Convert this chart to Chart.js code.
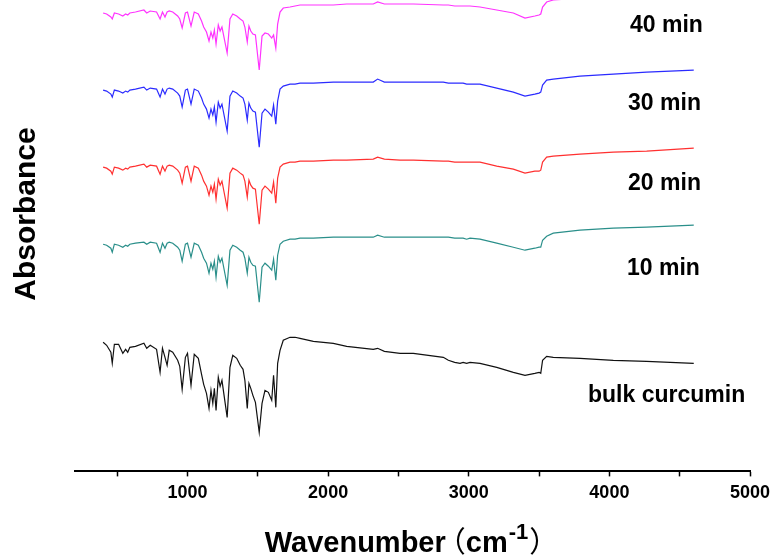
<!DOCTYPE html>
<html>
<head>
<meta charset="utf-8">
<script src="https://cdn.jsdelivr.net/npm/chart.js@4/dist/chart.umd.min.js"></script>
<style>
  html, body { margin: 0; padding: 0; background: #fff; }
  #caja { width: 773px; height: 557px; position: relative; }
</style>
</head>
<body>
<div id="caja"><canvas id="ftir_grf"></canvas></div>
<script>
// numero de onda (cm-1), comun a todos los espectros
const wavenumber = [
  400, 425, 455, 465, 480, 510, 540, 560, 575, 590,
  630, 690, 710, 735, 780, 805, 822, 840, 855, 870,
  895, 930, 945, 962, 985, 1000, 1025, 1048, 1077, 1100,
  1115, 1135, 1153, 1167, 1180, 1191, 1203, 1219, 1232, 1245,
  1282, 1302, 1322, 1350, 1375, 1395, 1408, 1425, 1437, 1450,
  1465, 1483, 1510, 1530, 1551, 1575, 1599, 1612, 1628, 1641,
  1658, 1681, 1729, 1765, 1800, 1895, 2037, 2132, 2321, 2352,
  2400, 2511, 2606, 2819, 2855, 2900, 2938, 2960, 2985, 3009,
  3080, 3199, 3317, 3400, 3470, 3500, 3512, 3525, 3554, 3601,
  3791, 4028, 4265, 4600
];

// absorbancia (u.a., con desplazamiento vertical de cada curva)
const bulkCurcumin = [
  1.29, 1.26, 1.19, 1.08, 1.27, 1.27, 1.18, 1.22, 1.19, 1.24,
  1.25, 1.28, 1.23, 1.26, 1.22, 0.99, 1.23, 1.14, 1.06, 1.21,
  1.19, 1.11, 1.05, 0.82, 1.14, 1.18, 0.86, 1.17, 1.13, 0.97,
  0.87, 0.78, 0.63, 0.81, 0.68, 0.83, 0.61, 0.94, 0.85, 0.91,
  0.54, 1.04, 1.16, 1.13, 1.06, 1.02, 0.91, 0.63, 0.88, 0.83,
  0.76, 0.69, 0.39, 0.68, 0.81, 0.79, 0.71, 0.96, 0.64, 1.08,
  1.21, 1.31, 1.34, 1.34, 1.33, 1.30, 1.28, 1.25, 1.22, 1.23,
  1.20, 1.18, 1.18, 1.14, 1.11, 1.09, 1.08, 1.09, 1.08, 1.09,
  1.08, 1.04, 0.99, 0.96, 0.98, 0.99, 0.98, 1.11, 1.15, 1.14,
  1.13, 1.11, 1.10, 1.08
];

const min10 = [
  2.27, 2.26, 2.23, 2.19, 2.27, 2.26, 2.24, 2.26, 2.25, 2.27,
  2.28, 2.29, 2.27, 2.29, 2.28, 2.19, 2.28, 2.23, 2.28, 2.29,
  2.28, 2.24, 2.21, 2.10, 2.27, 2.28, 2.14, 2.28, 2.26, 2.19,
  2.13, 2.08, 1.98, 2.08, 2.02, 2.10, 1.94, 2.15, 2.09, 2.13,
  1.86, 2.21, 2.26, 2.24, 2.21, 2.19, 2.13, 1.98, 2.14, 2.09,
  2.06, 2.05, 1.69, 2.04, 2.08, 2.05, 2.01, 2.12, 1.91, 2.16,
  2.27, 2.30, 2.32, 2.32, 2.33, 2.33, 2.34, 2.34, 2.34, 2.36,
  2.34, 2.34, 2.34, 2.34, 2.34, 2.33, 2.33, 2.33, 2.32, 2.33,
  2.32, 2.28, 2.24, 2.21, 2.23, 2.24, 2.24, 2.31, 2.35, 2.38,
  2.41, 2.43, 2.44, 2.46
];

const min20 = [
  3.04, 3.03, 3.00, 2.97, 3.04, 3.03, 3.01, 3.03, 3.02, 3.04,
  3.05, 3.07, 3.04, 3.06, 3.05, 2.97, 3.05, 3.00, 3.05, 3.06,
  3.05, 3.01, 2.98, 2.88, 3.04, 3.05, 2.90, 3.05, 3.03, 2.96,
  2.90, 2.85, 2.76, 2.85, 2.79, 2.87, 2.72, 2.92, 2.86, 2.90,
  2.63, 2.98, 3.03, 3.01, 2.98, 2.96, 2.90, 2.74, 2.91, 2.86,
  2.83, 2.82, 2.47, 2.81, 2.85, 2.82, 2.78, 2.89, 2.68, 2.93,
  3.04, 3.07, 3.09, 3.09, 3.10, 3.10, 3.11, 3.11, 3.12, 3.14,
  3.12, 3.11, 3.11, 3.10, 3.10, 3.09, 3.09, 3.09, 3.09, 3.09,
  3.09, 3.05, 3.02, 2.98, 3.00, 3.00, 3.01, 3.09, 3.14, 3.15,
  3.17, 3.19, 3.20, 3.23
];

const min30 = [
  3.81, 3.80, 3.77, 3.74, 3.81, 3.80, 3.78, 3.80, 3.79, 3.81,
  3.82, 3.84, 3.81, 3.83, 3.82, 3.74, 3.82, 3.77, 3.82, 3.83,
  3.82, 3.78, 3.75, 3.64, 3.81, 3.82, 3.67, 3.82, 3.80, 3.73,
  3.67, 3.62, 3.53, 3.62, 3.56, 3.64, 3.49, 3.69, 3.63, 3.67,
  3.40, 3.75, 3.80, 3.78, 3.75, 3.73, 3.67, 3.51, 3.68, 3.63,
  3.60, 3.59, 3.24, 3.58, 3.62, 3.59, 3.55, 3.66, 3.47, 3.70,
  3.82, 3.85, 3.87, 3.87, 3.88, 3.88, 3.89, 3.89, 3.89, 3.92,
  3.89, 3.89, 3.89, 3.89, 3.88, 3.88, 3.88, 3.88, 3.87, 3.87,
  3.87, 3.83, 3.79, 3.75, 3.77, 3.78, 3.79, 3.86, 3.91, 3.92,
  3.95, 3.97, 3.99, 4.01
];

const min40 = [
  4.58, 4.57, 4.54, 4.52, 4.58, 4.57, 4.55, 4.57, 4.56, 4.58,
  4.59, 4.61, 4.58, 4.60, 4.59, 4.52, 4.59, 4.54, 4.59, 4.60,
  4.59, 4.55, 4.52, 4.43, 4.58, 4.59, 4.45, 4.59, 4.57, 4.50,
  4.44, 4.39, 4.30, 4.39, 4.33, 4.41, 4.27, 4.46, 4.40, 4.44,
  4.18, 4.52, 4.57, 4.55, 4.52, 4.50, 4.44, 4.29, 4.45, 4.40,
  4.37, 4.36, 4.01, 4.35, 4.38, 4.37, 4.33, 4.36, 4.23, 4.47,
  4.59, 4.63, 4.64, 4.65, 4.66, 4.66, 4.66, 4.67, 4.67, 4.69,
  4.67, 4.67, 4.67, 4.66, 4.66, 4.65, 4.65, 4.65, 4.65, 4.65,
  4.64, 4.61, 4.58, 4.53, 4.55, 4.56, 4.57, 4.64, 4.69, 4.71,
  4.73, 4.75, 4.76, 4.78
];

// marcas del eje x (cada 500, con texto solo en los miles)
const xTicks = [500, 1000, 1500, 2000, 2500, 3000, 3500, 4000, 4500, 5000];
const xTickLabels = ['', '1000', '', '2000', '', '3000', '', '4000', '', '5000'];

// etiquetas de cada curva: texto, posicion en cm-1 y absorbancia de la linea base del texto
const etiquetas = ['40 min', '30 min', '20 min', '10 min', 'bulk curcumin'];
const etiquetaX = [4147, 4133, 4133, 4125, 3848];
const etiquetaY = [4.39, 3.61, 2.81, 1.96, 0.69];

const xMin = 200;
const xMax = 5000;
const yMin = 0;
const yMax = 4.71;

const series = [
  { nombre: '40 min', datos: min40, color: '#ff33ff' },
  { nombre: '30 min', datos: min30, color: '#2b2bff' },
  { nombre: '20 min', datos: min20, color: '#ff3030' },
  { nombre: '10 min', datos: min10, color: '#2a8f8a' },
  { nombre: 'bulk curcumin', datos: bulkCurcumin, color: '#111111' }
];

const fuente = "'Liberation Sans', Arial, sans-serif";

// texto de las curvas y titulos de los ejes
const textosPlugin = {
  id: 'textos',
  afterDraw(chart) {
    const ctx = chart.ctx;
    const xs = chart.scales.x;
    const ys = chart.scales.y;
    ctx.save();
    ctx.fillStyle = '#000';
    ctx.textBaseline = 'alphabetic';
    ctx.textAlign = 'left';
    ctx.font = 'bold 23px ' + fuente;
    etiquetas.forEach((t, i) => {
      ctx.fillText(t, xs.getPixelForValue(etiquetaX[i]), ys.getPixelForValue(etiquetaY[i]));
    });

    // titulo eje y
    ctx.save();
    ctx.translate(35, 214);
    ctx.rotate(-Math.PI / 2);
    ctx.textAlign = 'center';
    ctx.font = 'bold 30px ' + fuente;
    ctx.fillText('Absorbance', 0, 0);
    ctx.restore();

    // titulo eje x con superindice
    const partes = [
      { t: 'Wavenumber', f: 'bold 29px ' + fuente, dy: 0, dx: 0, adv: null },
      { t: '（', f: "29px 'Noto Sans CJK SC', sans-serif", dy: 0, dx: -9, adv: 20 },
      { t: 'cm', f: 'bold 29px ' + fuente, dy: 0, dx: 0, adv: null },
      { t: '-1', f: 'bold 22px ' + fuente, dy: -13, dx: 1, adv: null },
      { t: '）', f: "29px 'Noto Sans CJK SC', sans-serif", dy: 0, dx: 2, adv: 24 }
    ];
    let total = 0;
    partes.forEach(p => {
      ctx.font = p.f;
      p.w = p.adv !== null ? p.adv : ctx.measureText(p.t).width;
      total += p.w;
    });
    let x = 408 - total / 2;
    const base = 552;
    partes.forEach(p => {
      ctx.font = p.f;
      ctx.fillText(p.t, x + p.dx, base + p.dy);
      x += p.w;
    });
    ctx.restore();
  }
};

const ctx = document.getElementById('ftir_grf').getContext('2d');
new Chart(ctx, {
  type: 'line',
  data: {
    datasets: series.map(s => ({
      label: s.nombre,
      data: wavenumber.map((w, i) => ({ x: w, y: s.datos[i] })),
      borderColor: s.color,
      borderWidth: 1.2,
      pointRadius: 0,
      tension: 0,
      fill: false
    }))
  },
  options: {
    responsive: true,
    maintainAspectRatio: false,
    animation: false,
    layout: { padding: { left: 75, right: 23, top: 0, bottom: 47 } },
    plugins: {
      legend: { display: false },
      tooltip: { enabled: false }
    },
    scales: {
      x: {
        type: 'linear',
        min: xMin,
        max: xMax,
        afterBuildTicks: axis => {
          axis.ticks = xTicks.map(v => ({ value: v }));
        },
        // el texto "5000" cabe en el margen, sin recortar el area
        afterFit: axis => {
          axis.paddingRight = 0;
          axis.paddingLeft = 0;
        },
        grid: {
          display: true,
          drawOnChartArea: false,
          drawTicks: true,
          tickLength: 5,
          tickColor: '#000',
          tickWidth: 1.5
        },
        border: { display: true, color: '#000', width: 2 },
        ticks: {
          autoSkip: false,
          maxRotation: 0,
          padding: 6,
          color: '#000',
          font: { family: fuente, size: 18, weight: 'bold' },
          callback: (v, i) => xTickLabels[i]
        }
      },
      y: {
        display: false,
        min: yMin,
        max: yMax
      }
    }
  },
  plugins: [textosPlugin]
});
</script>
</body>
</html>
